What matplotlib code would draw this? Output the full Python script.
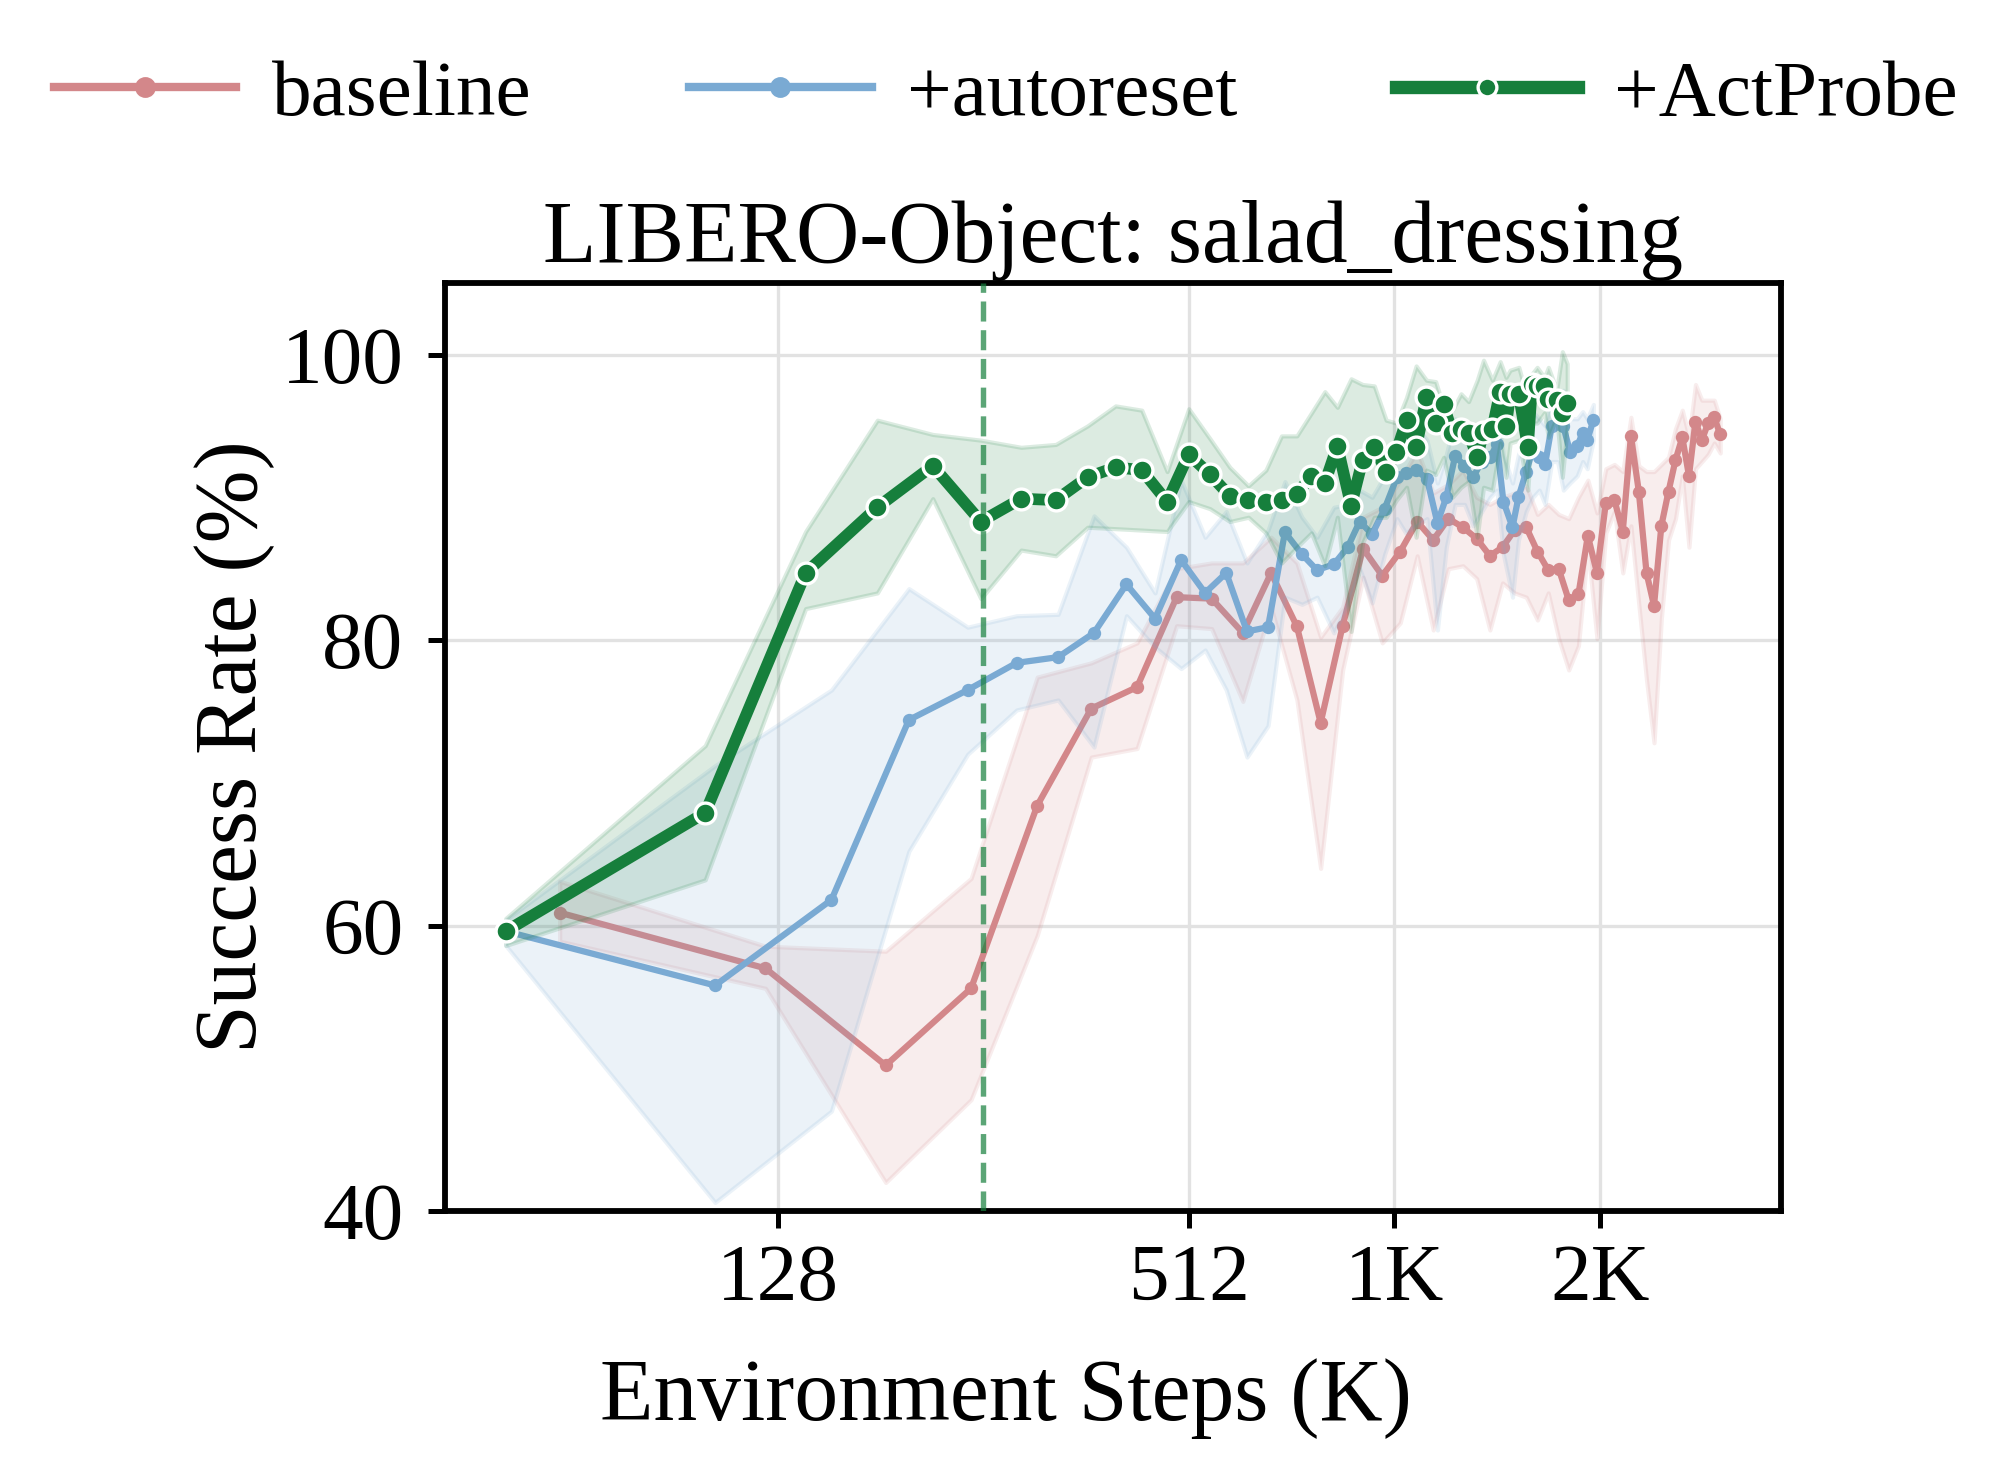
import matplotlib
matplotlib.use("Agg")
import matplotlib.pyplot as plt
from matplotlib.ticker import NullLocator, FixedLocator, FixedFormatter
from matplotlib.lines import Line2D

plt.rcParams['font.family'] = ['Liberation Serif', 'DejaVu Serif']
plt.rcParams['mathtext.fontset'] = 'stix'

# ---------------- data ----------------
base_x = [61.4, 122.9, 184.3, 245.8, 307.2, 368.6, 430.1, 491.5, 553.0, 614.4,
          675.8, 737.3, 798.7, 860.2, 921.6, 983.0, 1044.5, 1105.9, 1167.4, 1228.8,
          1290.2, 1351.7, 1413.1, 1474.6, 1536.0, 1597.4, 1658.9, 1720.3, 1781.8, 1843.2,
          1904.6, 1966.1, 2027.5, 2089.0, 2150.4, 2211.8, 2273.3, 2334.7, 2396.2, 2457.6,
          2519.0, 2580.5, 2641.9, 2703.4, 2764.8, 2826.2, 2887.7, 2949.1, 3010.6, 3072.0]
base_y = [60.9, 57.0, 50.2, 55.6, 68.4, 75.2, 76.7, 83.0, 82.9, 80.5,
          84.7, 80.95, 74.2, 81.0, 86.4, 84.5, 86.2, 88.3, 87.0, 88.5,
          87.9, 87.1, 85.9, 86.5, 87.7, 87.9, 86.2, 84.9, 85.0, 82.8,
          83.2, 87.3, 84.7, 89.6, 89.8, 87.6, 94.3, 90.4, 84.7, 82.4,
          88.0, 90.4, 92.6, 94.2, 91.5, 95.3, 94.0, 95.2, 95.6, 94.4]
base_hi = [63.1, 58.55, 58.2, 63.3, 77.4, 78.4, 79.8, 85.0, 85.4, 85.4,
           87.2, 85.4, 80.2, 82.3, 88.6, 89.3, 91.2, 93.3, 90.3, 90.9,
           91.9, 90.0, 89.5, 90.0, 90.3, 90.8, 88.8, 89.5, 88.8, 88.5,
           90.0, 91.2, 88.9, 92.0, 92.3, 91.8, 95.6, 92.2, 91.8, 91.8,
           92.3, 92.8, 94.8, 96.1, 94.2, 97.9, 96.8, 96.8, 96.8, 95.5]
base_lo = [58.9, 55.6, 42.0, 47.8, 59.3, 71.8, 72.4, 81.0, 80.8, 75.7,
           82.3, 75.8, 64.0, 77.9, 84.4, 79.8, 81.2, 85.9, 80.7, 85.0,
           85.2, 84.3, 80.7, 84.0, 83.3, 83.0, 81.4, 83.3, 80.1, 77.9,
           79.6, 86.5, 80.1, 87.5, 89.0, 84.7, 88.0, 82.5, 77.2, 72.8,
           81.5, 87.0, 88.5, 91.5, 86.5, 92.0, 92.5, 93.0, 93.8, 93.1]

auto_x = [51.2, 103.7, 153.5, 199.3, 243, 286.6, 329.6, 372, 415, 457,
          499, 541, 581, 623, 669, 708, 750, 789, 835, 875,
          911, 950, 991, 1033, 1064, 1102, 1143, 1184, 1220, 1257,
          1297, 1335, 1375, 1414, 1447, 1479, 1525, 1556, 1597, 1633,
          1669, 1702, 1741, 1775, 1810, 1851, 1897, 1932, 1962, 2003]
auto_y = [59.6, 55.8, 61.8, 74.4, 76.5, 78.4, 78.8, 80.5, 83.9, 81.5,
          85.6, 83.3, 84.7, 80.6, 80.9, 87.55, 86.0, 84.9, 85.3, 86.5,
          88.3, 87.4, 89.2, 91.4, 91.7, 91.9, 91.3, 88.2, 90.0, 92.9,
          92.2, 91.4, 92.5, 92.8, 93.7, 89.7, 87.9, 90.0, 91.8, 93.3,
          92.8, 92.3, 95.0, 95.2, 95.0, 93.2, 93.6, 94.5, 94.0, 95.4]
auto_hi = [60.4, 71.2, 76.5, 83.6, 80.9, 81.7, 81.8, 88.7, 86.5, 83.3,
           91.2, 87.2, 89.0, 85.4, 87.7, 91.1, 88.6, 87.2, 89.3, 89.5,
           90.5, 90.0, 91.5, 93.5, 94.0, 95.0, 94.0, 91.0, 93.0, 95.5,
           94.5, 94.0, 95.0, 95.5, 96.0, 93.0, 91.0, 93.0, 94.5, 96.0,
           95.5, 95.0, 97.0, 97.2, 97.5, 95.5, 95.5, 96.0, 95.5, 96.5]
auto_lo = [58.6, 40.6, 47.0, 65.2, 72.0, 75.1, 75.8, 72.5, 81.7, 79.5,
           78.0, 79.3, 76.5, 71.8, 74.0, 83.0, 82.5, 83.0, 80.5, 82.5,
           85.0, 82.6, 86.0, 88.5, 87.5, 88.0, 88.5, 80.7, 86.5, 89.5,
           89.5, 88.0, 89.0, 90.0, 90.5, 86.0, 83.0, 87.0, 89.0, 90.0,
           90.5, 89.5, 92.5, 92.5, 90.5, 91.0, 91.5, 92.5, 92.0, 94.0]

probe_x = [51.2, 100.3, 140.7, 179.2, 216, 254, 291, 327, 364, 400,
           437, 476, 512, 550, 588, 626, 664, 700, 737, 774,
           810, 845, 885, 920, 957, 996, 1031, 1067, 1102, 1141,
           1177, 1209, 1245, 1282, 1315, 1354, 1383, 1425, 1463, 1492,
           1513, 1558, 1606, 1629, 1657, 1698, 1721, 1770, 1804, 1834]
probe_y = [59.6, 67.9, 84.7, 89.3, 92.2, 88.3, 89.9, 89.8, 91.4, 92.1,
           91.9, 89.7, 93.0, 91.6, 90.1, 89.8, 89.7, 89.8, 90.2, 91.5,
           91.0, 93.6, 89.4, 92.6, 93.5, 91.8, 93.2, 95.4, 93.5, 97.0,
           95.2, 96.5, 94.5, 94.8, 94.5, 92.8, 94.6, 94.8, 97.4, 95.0,
           97.2, 97.2, 93.5, 97.9, 97.8, 97.8, 96.9, 96.8, 95.9, 96.6]
probe_hi = [60.5, 72.6, 87.6, 95.4, 94.4, 94.0, 93.5, 93.7, 95.0, 96.4,
            96.1, 91.8, 96.2, 94.1, 92.1, 90.8, 91.9, 94.3, 94.3, 95.9,
            97.4, 96.3, 98.3, 97.9, 97.8, 95.4, 95.2, 97.0, 99.2, 98.2,
            98.1, 96.3, 96.1, 97.25, 96.7, 98.2, 99.6, 98.2, 99.5, 98.4,
            98.9, 99.1, 96.8, 98.65, 99.1, 98.4, 99.1, 97.5, 100.2, 99.35]
probe_lo = [58.6, 63.2, 82.2, 83.3, 89.9, 82.9, 86.3, 85.9, 87.9, 87.8,
            87.7, 87.6, 89.7, 89.2, 88.3, 88.6, 87.5, 85.4, 86.5, 87.5,
            85.2, 88.6, 80.6, 86.8, 88.6, 88.6, 89.8, 90.7, 87.2, 91.9,
            91.6, 92.8, 90.0, 90.7, 91.1, 87.2, 90.7, 90.5, 93.8, 91.4,
            93.8, 94.0, 90.5, 95.2, 95.2, 95.9, 94.2, 95.6, 91.4, 94.9]

labels = ['baseline', '+autoreset', '+ActProbe']
xtick_vals = [128, 512, 1024, 2048]
xtick_labels = ['128', '512', '1K', '2K']
ytick_vals = [40, 60, 80, 100]
switch_step = 256

# ---------------- style ----------------
c_base = '#d3878a'
c_auto = '#7aaad3'
c_probe = '#167f3c'

fig = plt.figure(figsize=(2011 / 300, 1467 / 300), dpi=300)
ax = fig.add_axes([0.2213, 0.1745, 0.6643, 0.6325])
ax.set_xscale('log', base=2)

series = [
    (base_x, base_y, base_lo, base_hi, c_base, 1.5, 3.2, None, 0),
    (auto_x, auto_y, auto_lo, auto_hi, c_auto, 1.5, 3.2, None, 0),
    (probe_x, probe_y, probe_lo, probe_hi, c_probe, 2.8, 5.0, 'white', 0.8),
]
for i, (x, y, lo, hi, c, lw, ms, mec, mew) in enumerate(series):
    ax.fill_between(x, lo, hi, color=c, alpha=0.15, lw=1.0, zorder=2 + 2 * i)
    ax.plot(x, y, color=c, lw=lw, marker='o', ms=ms,
            mec=(mec if mec else c), mew=mew, zorder=3 + 2 * i)

ax.axvline(switch_step, color=c_probe, alpha=0.7, ls='--', lw=1.3, zorder=10)

ax.set_ylim(40, 105)
ax.yaxis.set_major_locator(FixedLocator(ytick_vals))
ax.xaxis.set_major_locator(FixedLocator(xtick_vals))
ax.xaxis.set_major_formatter(FixedFormatter(xtick_labels))
ax.xaxis.set_minor_locator(NullLocator())
ax.yaxis.set_minor_locator(NullLocator())

ax.grid(True, color='#e2e2e2', lw=0.8, zorder=0)
ax.set_axisbelow(True)
for s in ax.spines.values():
    s.set_linewidth(1.4)
    s.set_color('black')
ax.tick_params(axis='both', labelsize=19.5, length=4, width=1.2, direction='out')
ax.tick_params(axis='x', pad=4)
ax.tick_params(axis='y', pad=6)

ax.set_title('LIBERO-Object: salad_dressing', fontsize=21, pad=5)
fig.text(0.5, 0.032, 'Environment Steps (K)', fontsize=21, ha='center', va='baseline')
ax.set_ylabel('Success Rate (%)', fontsize=21, labelpad=1.5)

handles = [
    Line2D([], [], color=c_base, lw=2.0, marker='o', ms=4, mec=c_base),
    Line2D([], [], color=c_auto, lw=2.0, marker='o', ms=4, mec=c_auto),
    Line2D([], [], color=c_probe, lw=3.2, marker='o', ms=4.5, mec='white', mew=0.8),
]
fig.legend(handles, labels, loc='upper center', bbox_to_anchor=(0.5, 1.008), ncol=3,
           frameon=False, fontsize=19, handlelength=2.3, handletextpad=0.45,
           columnspacing=2.0)

fig.savefig('out.png', dpi=300)
